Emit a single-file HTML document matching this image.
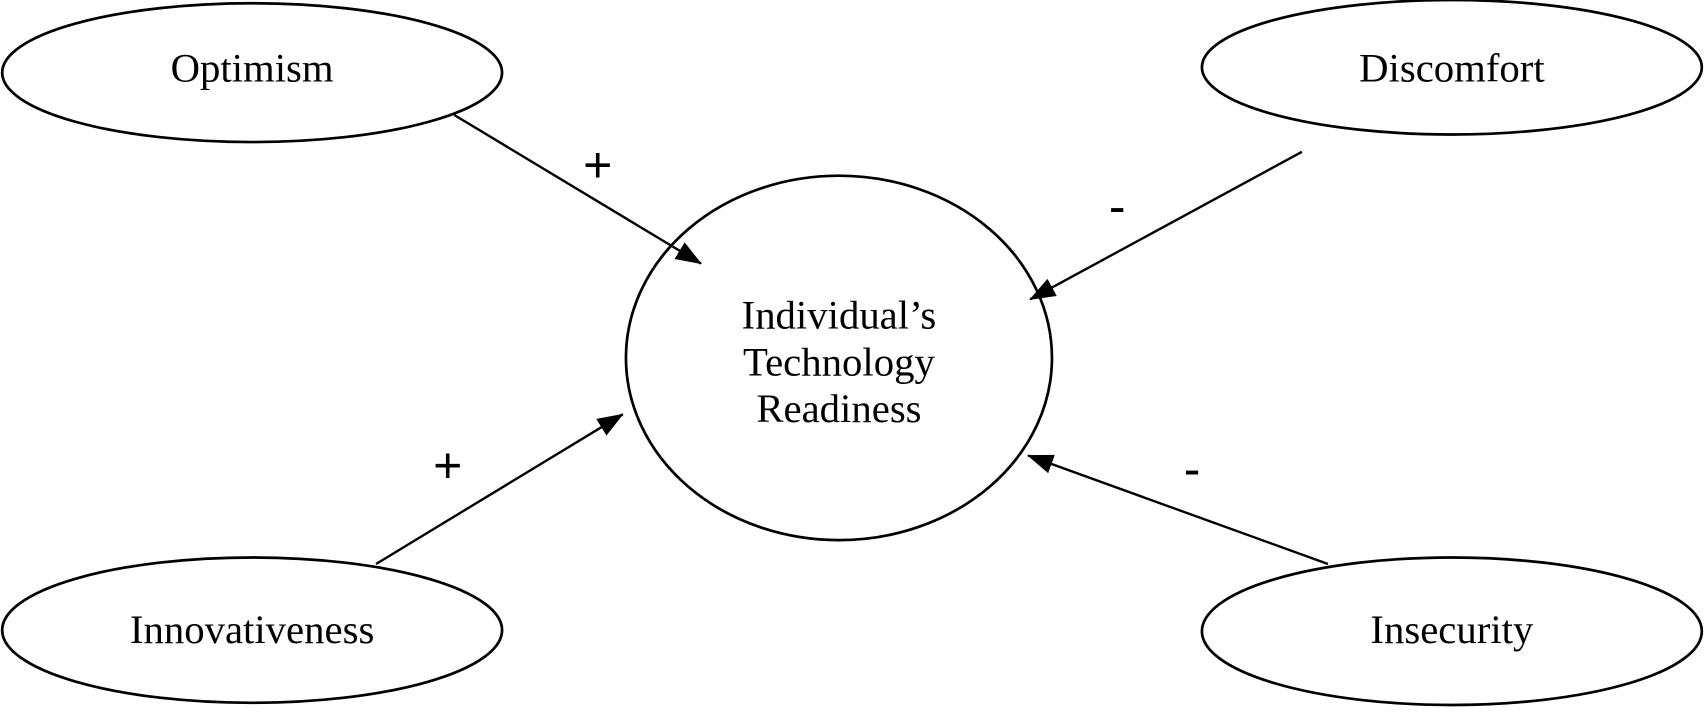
<!DOCTYPE html>
<html><head><style>html,body{margin:0;padding:0;background:#fff}svg{display:block}</style></head><body>
<svg width="1704" height="718" viewBox="0 0 1568 662" preserveAspectRatio="none" xmlns="http://www.w3.org/2000/svg">
<defs>
<marker id="b" markerWidth="24" markerHeight="18" refX="23" refY="9" orient="auto" markerUnits="userSpaceOnUse"><path d="M0,0 L24,9 L0,18 z" fill="#000"/></marker></defs>
<g fill="none" stroke="#000" stroke-width="2.5">
<ellipse cx="232" cy="67" rx="230" ry="64"/>
<ellipse cx="1336" cy="62" rx="230" ry="62"/>
<ellipse cx="772" cy="330" rx="196" ry="168"/>
<ellipse cx="232" cy="581" rx="230" ry="67"/>
<ellipse cx="1336" cy="582" rx="230" ry="68"/>
<g stroke-width="2.2">
<line x1="418" y1="106" x2="645" y2="243" marker-end="url(#b)"/>
<line x1="1198" y1="140" x2="948" y2="276" marker-end="url(#b)"/>
<line x1="346" y1="520" x2="573" y2="382" marker-end="url(#b)"/>
<line x1="1222" y1="520" x2="946" y2="420" marker-end="url(#b)"/>
</g></g>
<g font-family="Liberation Serif, serif" font-size="37.5" text-anchor="middle" fill="#000">
<text x="232" y="75">Optimism</text>
<text x="1336" y="75">Discomfort</text>
<text x="232" y="593">Innovativeness</text>
<text x="1336" y="593">Insecurity</text>
<text x="772" y="303">Individual’s</text>
<text x="772" y="346">Technology</text>
<text x="772" y="389">Readiness</text>
</g>
<g font-family="Liberation Sans, sans-serif" font-size="46" text-anchor="middle" fill="#000">
<text x="550" y="168">+</text>
<text x="1028" y="206">-</text>
<text x="412" y="445">+</text>
<text x="1097" y="448">-</text>
</g>
</svg>
</body></html>
